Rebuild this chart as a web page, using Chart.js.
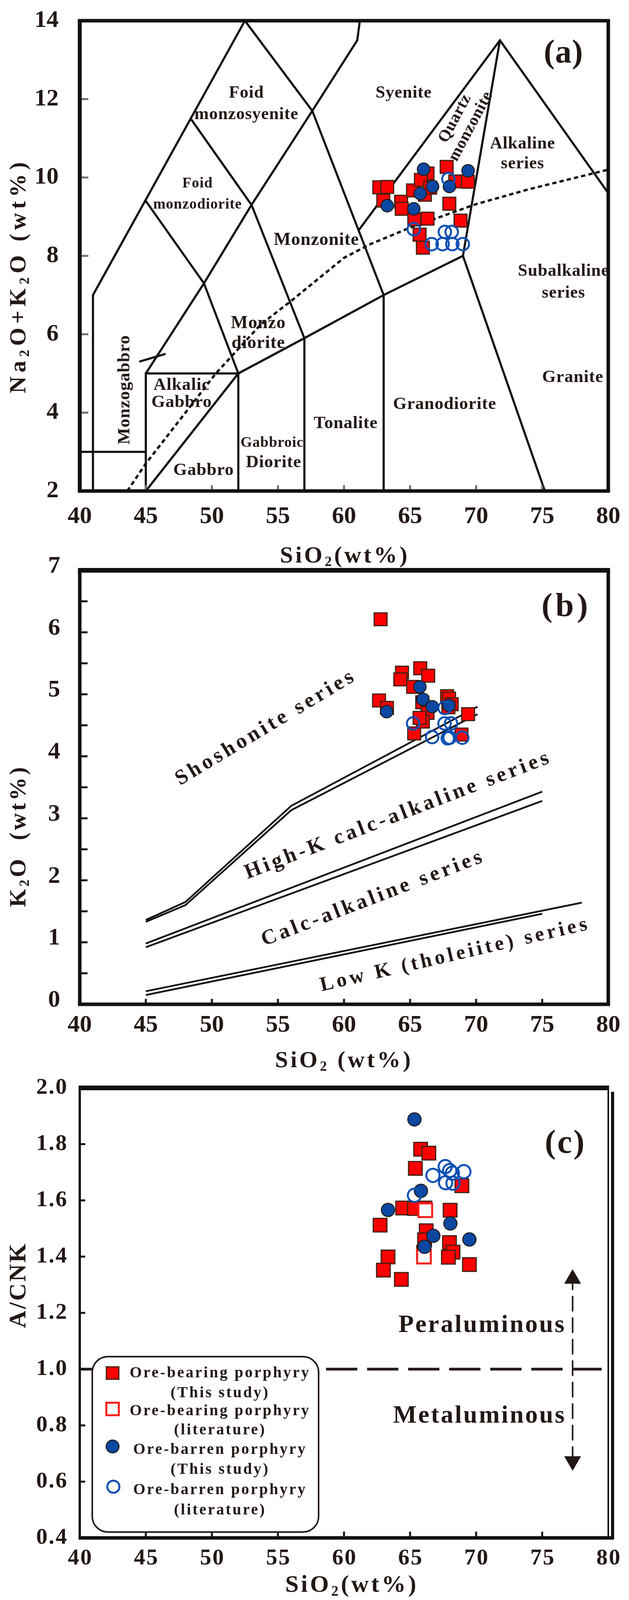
<!DOCTYPE html>
<html>
<head>
<meta charset="utf-8">
<script src="https://cdn.jsdelivr.net/npm/chart.js@4.4.0/dist/chart.umd.min.js"></script>
<style>
  body { margin: 0; background: #fff; width: 1609px; height: 4110px; position: relative; overflow: hidden; }
  canvas { position: absolute; left: 0; }
</style>
</head>
<body>
<canvas id="chartA" width="1609" height="1480" style="top:0"></canvas>
<canvas id="chartB" width="1609" height="1370" style="top:1380px"></canvas>
<canvas id="chartC" width="1609" height="1370" style="top:2740px"></canvas>
<script>
// ---------- (a) TAS diagram data ----------
const tasOreBearing = [[62.67,9.75],[63.27,9.76],[62.97,9.41],[64.32,9.38],[64.37,9.20],[65.22,9.67],[65.32,8.93],
  [66.32,8.95],[65.72,8.54],[65.97,8.21],[68.82,8.90],[67.97,9.33],[67.77,10.27],[68.42,9.90],[69.37,9.89],
  [66.32,10.10],[65.82,9.94],[66.12,9.56],[66.52,9.74]];
const tasBarren = [[66.02,10.21],[66.70,9.77],[65.77,9.59],[67.98,9.77],[69.39,10.17],[63.27,9.28],[65.28,9.20]];
const tasBarrenLit = [[65.28,8.68],[67.90,9.96],[67.63,8.61],[68.15,8.61],[66.64,8.30],[67.46,8.30],[68.20,8.30],[68.99,8.30]];

// field boundaries (SiO2, Na2O+K2O)
const tasBoundaries = [
  [[41,2],[41,7],[52.5,14]],
  [[40,3],[45,3]],
  [[45,2],[45,5],[52,5],[52,2]],
  [[45,2],[52,5],[57,5.9],[63,7],[69,8]],
  [[57,2],[57,5.9]],
  [[63,2],[63,7]],
  [[45,5],[49.4,7.3],[53,9.3],[57.6,11.7],[61,13.5],[61.2,14]],
  [[45,9.4],[49.4,7.3],[52,5]],
  [[48.4,11.5],[53,9.3],[57,5.9]],
  [[52.5,14],[57.6,11.7],[63,7]],
  [[61.1,8.65],[71.8,13.5],[80,9.6]],
  [[75.2,2],[69,8],[71.8,13.5]],
  [[44.5,5.3],[46.5,5.5]]
];
// alkaline / subalkaline divide
const alkalineDivide = [[43.6,2],[45,2.7],[48,4.0],[50.3,5.0],[53.7,6.25],[56,6.85],[60,7.95],[62,8.3],
  [65,8.72],[70,9.32],[74,9.7],[80,10.2]];

const tasTicksX = [45,50,55,60,65,70,75];
const tasTicksY = [4,6,8,10,12,14];
const tasLabelsX = [40,45,50,55,60,65,70,75,80];
const tasLabelsY = [2,4,6,8,10,12,14];

// ---------- (b) K2O vs SiO2 ----------
const kOreBearing = [[65.77,5.42],[64.39,5.35],[64.26,5.24],[66.37,5.30],[65.23,5.12],[62.65,4.90],[63.25,4.78],
  [67.80,4.97],[67.95,4.93],[68.15,4.84],[67.90,4.79],[69.39,4.68],[65.31,4.37],[68.89,4.35],[65.92,4.87],
  [66.32,4.70],[65.97,4.56],[65.72,4.62],[62.77,6.21]];
const kBarren = [[65.74,5.12],[65.97,4.92],[66.67,4.80],[67.95,4.82],[63.23,4.72]];
const kBarrenLit = [[65.23,4.53],[67.61,4.78],[67.61,4.53],[68.10,4.53],[66.67,4.31],[67.85,4.29],[68.00,4.30],[68.95,4.30]];

const shoshoniteUpper = [[45,1.36],[48,1.65],[56,3.2],[70.1,4.8]];
const shoshoniteLower = [[45,1.33],[48,1.6],[56,3.13],[70.1,4.68]];
const highKUpper = [[45,0.98],[75,3.43]];
const highKLower = [[45,0.92],[75,3.28]];
const lowKUpper = [[45,0.21],[78,1.64]];
const lowKLower = [[45,0.15],[75,1.46]];

const kTicksX = [45,50,55,60,65,70,75];
const kTicksY = [0.5,1,1.5,2,2.5,3,3.5,4,4.5,5,5.5,6,6.5];
const kLabelsX = [40,45,50,55,60,65,70,75,80];
const kLabelsY = [0,1,2,3,4,5,6,7];

// ---------- (c) A/CNK vs SiO2 ----------
const acnkOreBearing = [[65.80,1.782],[66.42,1.768],[65.40,1.714],[68.92,1.652],[64.44,1.573],[65.33,1.571],
  [66.12,1.573],[68.03,1.565],[62.73,1.512],[66.22,1.492],[66.10,1.46],[66.02,1.416],[67.98,1.450],[68.25,1.416],
  [67.90,1.398],[69.49,1.372],[63.33,1.399],[62.98,1.352],[64.34,1.319]];
const acnkOreBearingLit = [[66.15,1.565],[66.05,1.40]];
const acnkBarren = [[65.82,1.634],[63.33,1.566],[68.05,1.518],[66.76,1.474],[66.09,1.435],[69.49,1.461],[65.33,1.888]];
const acnkBarrenLit = [[65.33,1.618],[66.73,1.689],[67.66,1.720],[68.00,1.706],[68.20,1.697],[69.07,1.702],
  [67.69,1.663],[68.25,1.661]];

const aluminaDivide = [[40,1.0],[79.5,1.0]];
const arrowShaft = [[77.3,0.67],[77.3,1.32]];
const arrowHeads = [[77.3,1.321],[77.3,0.673]];

const acnkTicksX = [45,50,55,60,65,70,75];
const acnkTicksY = [0.6,0.8,1.0,1.2,1.4,1.6,1.8];
const acnkLabelsX = [40,45,50,55,60,65,70,75,80];
const acnkLabelsY = [0.4,0.6,0.8,1.0,1.2,1.4,1.6,1.8,2.0];

// ---------- drawing helpers ----------
const SERIF = '"Liberation Serif", "Times New Roman", serif';
const INK = '#231815';
const RED = '#ff0000';
const BLUE = '#0a47a1';
const RING = '#0a50b4';

const pts = arr => arr.map(([x, y]) => ({ x, y }));
const font = size => 'bold ' + size + 'px ' + SERIF;

function drawText(ctx, text, x, y, size, opts = {}) {
  const sp = opts.spacing || 0;
  ctx.save();
  ctx.translate(x, y);
  if (opts.rotate) ctx.rotate(opts.rotate * Math.PI / 180);
  ctx.font = font(size);
  ctx.letterSpacing = sp + 'px';
  ctx.fillStyle = INK;
  ctx.textAlign = opts.align || 'center';
  ctx.textBaseline = 'middle';
  ctx.fillText(text, ctx.textAlign === 'center' ? sp / 2 : 0, 0);
  ctx.restore();
}

// text with subscripts: parts = [[text, isSub], ...]
function drawRich(ctx, parts, x, y, size, opts = {}) {
  ctx.save();
  ctx.translate(x, y);
  if (opts.rotate) ctx.rotate(opts.rotate * Math.PI / 180);
  ctx.fillStyle = INK;
  ctx.textAlign = 'left';
  ctx.textBaseline = 'alphabetic';
  ctx.letterSpacing = (opts.spacing || 0) + 'px';
  const widths = parts.map(p => { ctx.font = font(p[1] ? size * 0.6 : size); return ctx.measureText(p[0]).width; });
  let cx = -widths.reduce((a, b) => a + b, 0) / 2;
  parts.forEach((p, i) => {
    ctx.font = font(p[1] ? size * 0.6 : size);
    ctx.fillText(p[0], cx, size * 0.33 + (p[1] ? size * 0.16 : 0));
    cx += widths[i];
  });
  ctx.restore();
}

function seg(ctx, x1, y1, x2, y2) {
  ctx.beginPath();
  ctx.moveTo(x1, y1);
  ctx.lineTo(x2, y2);
  ctx.stroke();
}

// frame, inward ticks, tick labels, titles and field names
const decor = {
  id: 'decor',
  afterDatasetsDraw(chart, args, o) {
    const { ctx, chartArea: a, scales: { x, y } } = chart;
    ctx.save();
    ctx.lineCap = 'butt';
    ctx.strokeStyle = o.tickColor;
    ctx.lineWidth = 5;
    o.ticksX.forEach(v => { const px = x.getPixelForValue(v); seg(ctx, px, a.bottom, px, a.bottom - o.tickLenX); });
    o.ticksY.forEach(v => { const py = y.getPixelForValue(v); seg(ctx, a.left, py, a.left + o.tickLenY, py); });

    ctx.strokeStyle = '#111';
    const f = o.frame;
    ctx.lineWidth = f.top; seg(ctx, a.left - f.left / 2, a.top, a.right + f.right / 2, a.top);
    ctx.lineWidth = f.bottom; seg(ctx, a.left - f.left / 2, a.bottom, a.right + f.right / 2 + (f.outer || 0), a.bottom);
    ctx.lineWidth = f.left; seg(ctx, a.left, a.top, a.left, a.bottom);
    ctx.lineWidth = f.right; seg(ctx, a.right, a.top, a.right, a.bottom);
    if (f.outer) { ctx.lineWidth = 8; seg(ctx, a.right + f.outer, a.top + 10, a.right + f.outer, a.bottom + 4); }

    o.labelsX.forEach(v => drawText(ctx, o.fmtX(v), x.getPixelForValue(v), a.bottom + o.labelOffX, o.tickFont, { spacing: o.tickSpacing }));
    o.labelsY.forEach(v => drawText(ctx, o.fmtY(v), a.left - o.labelOffY, y.getPixelForValue(v) + (o.labelShiftY || 0), o.tickFont, { align: 'right', spacing: o.tickSpacing }));

    drawRich(ctx, o.titleX, o.titleXPos[0], o.titleXPos[1], o.titleSize, { spacing: o.titleSpacing });
    drawRich(ctx, o.titleY, o.titleYPos[0], o.titleYPos[1], o.titleSize, { rotate: -90, spacing: o.titleYSpacing });

    o.notes.forEach(n => drawText(ctx, n[0], x.getPixelForValue(n[1]), y.getPixelForValue(n[2]), n[3],
      { rotate: n[4] || 0, spacing: o.noteSpacing }));
    if (o.extra) o.extra(ctx, chart);
    ctx.restore();
  }
};

const lineSet = (arr, extra = {}) => Object.assign({
  data: pts(arr), showLine: true, borderColor: '#111', borderWidth: 5.5, pointRadius: 0, tension: 0, fill: false
}, extra);
const squares = (arr, r) => ({ data: pts(arr), pointStyle: 'rect', pointRadius: r,
  pointBackgroundColor: RED, pointBorderColor: '#3b2314', pointBorderWidth: 3 });
const openSquares = (arr, r) => ({ data: pts(arr), pointStyle: 'rect', pointRadius: r,
  pointBackgroundColor: '#fff', pointBorderColor: '#ff1a1a', pointBorderWidth: 5 });
const dots = (arr, r) => ({ data: pts(arr), pointStyle: 'circle', pointRadius: r,
  pointBackgroundColor: BLUE, pointBorderColor: INK, pointBorderWidth: 2.5 });
const rings = (arr, r) => ({ data: pts(arr), pointStyle: 'circle', pointRadius: r,
  pointBackgroundColor: 'rgba(0,0,0,0)', pointBorderColor: RING, pointBorderWidth: 5 });

function makeChart(id, cfg) {
  return new Chart(document.getElementById(id), {
    type: 'scatter',
    data: { datasets: cfg.datasets },
    options: {
      responsive: false, animation: false, devicePixelRatio: 1, events: [],
      layout: { autoPadding: false, padding: cfg.padding },
      scales: {
        x: { type: 'linear', min: 40, max: 80, display: false },
        y: { type: 'linear', min: cfg.yMin, max: cfg.yMax, display: false }
      },
      plugins: { legend: { display: false }, tooltip: { enabled: false }, decor: cfg.decor }
    },
    plugins: [decor]
  });
}

const intLabel = v => String(v);

// ---------- (a) ----------
makeChart('chartA', {
  yMin: 2, yMax: 14,
  padding: { left: 204, right: 53, top: 53, bottom: 223 },
  datasets: [
    rings(tasBarrenLit, 16),
    dots(tasBarren, 16),
    squares(tasOreBearing, 23.3),
    lineSet(alkalineDivide, { borderWidth: 6, borderDash: [11, 8] }),
    ...tasBoundaries.map(b => lineSet(b))
  ],
  decor: {
    tickColor: '#707070', tickLenX: 15, tickLenY: 22,
    ticksX: tasTicksX, ticksY: tasTicksY,
    frame: { top: 9, bottom: 9, left: 10, right: 9 },
    labelsX: tasLabelsX, labelsY: tasLabelsY, fmtX: intLabel, fmtY: intLabel,
    tickFont: 62, tickSpacing: 0, labelOffX: 66, labelOffY: 54,
    titleX: [['SiO'], ['2', 1], ['(wt%)']], titleXPos: [882, 1420],
    titleY: [['Na'], ['2', 1], ['O+K'], ['2', 1], ['O (wt%)']], titleYPos: [45, 706],
    titleSize: 60, titleSpacing: 6, titleYSpacing: 10,
    noteSpacing: 1,
    notes: [
      ['Foid', 52.6, 12.15, 44], ['monzosyenite', 52.6, 11.6, 44],
      ['Foid', 48.9, 9.84, 38], ['monzodiorite', 48.9, 9.3, 38],
      ['Syenite', 64.5, 12.15, 44],
      ['Quartz', 68.4, 11.5, 42, -62], ['monzonite', 69.6, 11.3, 42, -62],
      ['Alkaline', 73.5, 10.85, 44], ['series', 73.5, 10.35, 44],
      ['Monzonite', 57.9, 8.4, 46],
      ['Monzo', 53.5, 6.27, 46], ['diorite', 53.5, 5.77, 46],
      ['Subalkaline', 76.6, 7.6, 44], ['series', 76.6, 7.05, 44],
      ['Alkalic', 47.7, 4.70, 45], ['Gabbro', 47.7, 4.26, 45],
      ['Monzogabbro', 43.42, 4.58, 45, -90],
      ['Gabbro', 49.36, 2.52, 45],
      ['Gabbroic', 54.54, 3.22, 38], ['Diorite', 54.66, 2.72, 45],
      ['Tonalite', 60.12, 3.72, 45],
      ['Granodiorite', 67.6, 4.21, 45],
      ['Granite', 77.3, 4.9, 45],
      ['(a)', 76.6, 13.15, 84]
    ]
  }
});

// ---------- (b) ----------
makeChart('chartB', {
  yMin: 0, yMax: 7,
  padding: { left: 204, right: 53, top: 80, bottom: 179 },
  datasets: [
    rings(kBarrenLit, 16),
    dots(kBarren, 16),
    squares(kOreBearing, 23.3),
    lineSet(shoshoniteUpper, { borderWidth: 4.5 }), lineSet(shoshoniteLower, { borderWidth: 4.5 }),
    lineSet(highKUpper, { borderWidth: 4.5 }), lineSet(highKLower, { borderWidth: 4.5 }),
    lineSet(lowKUpper, { borderWidth: 4.5 }), lineSet(lowKLower, { borderWidth: 4.5 })
  ],
  decor: {
    tickColor: '#111', tickLenX: 14, tickLenY: 20,
    ticksX: kTicksX, ticksY: kTicksY,
    frame: { top: 12, bottom: 9, left: 9, right: 9 },
    labelsX: kLabelsX, labelsY: kLabelsY, fmtX: intLabel, fmtY: intLabel,
    tickFont: 62, tickSpacing: 0, labelOffX: 54, labelOffY: 50, labelShiftY: -10,
    titleX: [['SiO'], ['2', 1], [' (wt%)']], titleXPos: [880, 1332],
    titleY: [['K'], ['2', 1], ['O  (wt%)']], titleYPos: [45, 760],
    titleSize: 60, titleSpacing: 6, titleYSpacing: 6,
    noteSpacing: 8,
    notes: [
      ['Shoshonite series', 54.0, 4.45, 54, -31],
      ['High-K calc-alkaline series', 64.0, 3.04, 54, -21],
      ['Calc-alkaline series', 62.1, 1.70, 54, -21],
      ['Low K (tholeiite) series', 68.3, 0.79, 52, -13],
      ['(b)', 76.7, 6.4, 84]
    ]
  }
});

// ---------- (c) ----------
function drawLegendC(ctx) {
  ctx.save();
  ctx.fillStyle = '#fff';
  ctx.strokeStyle = INK;
  ctx.lineWidth = 4;
  ctx.beginPath();
  ctx.roundRect(236, 733, 579, 449, 40);
  ctx.fill();
  ctx.stroke();

  // markers
  ctx.fillStyle = RED; ctx.strokeStyle = '#3b2314'; ctx.lineWidth = 3;
  ctx.fillRect(272, 759, 32, 32); ctx.strokeRect(272, 759, 32, 32);
  ctx.fillStyle = '#fff'; ctx.strokeStyle = '#ff1a1a'; ctx.lineWidth = 5;
  ctx.fillRect(272, 851, 32, 32); ctx.strokeRect(272, 851, 32, 32);
  ctx.fillStyle = BLUE; ctx.strokeStyle = INK; ctx.lineWidth = 2.5;
  ctx.beginPath(); ctx.arc(288, 963, 16.5, 0, Math.PI * 2); ctx.fill(); ctx.stroke();
  ctx.strokeStyle = RING; ctx.lineWidth = 5;
  ctx.beginPath(); ctx.arc(290, 1066, 15.5, 0, Math.PI * 2); ctx.stroke();
  ctx.restore();

  const rows = [
    ['Ore-bearing porphyry', 776], ['(This study)', 827],
    ['Ore-bearing porphyry', 873], ['(literature)', 922],
    ['Ore-barren porphyry', 972], ['(This study)', 1023],
    ['Ore-barren porphyry', 1075], ['(literature)', 1127]
  ];
  rows.forEach(r => drawText(ctx, r[0], 561, r[1], 40, { spacing: 4 }));
}

makeChart('chartC', {
  yMin: 0.4, yMax: 2.0,
  padding: { left: 204, right: 53, top: 45, bottom: 173 },
  datasets: [
    { data: pts(arrowHeads), pointStyle: 'triangle', pointRadius: 24, pointRotation: [0, 180],
      pointBackgroundColor: INK, pointBorderColor: INK, pointBorderWidth: 1 },
    rings(acnkBarrenLit, 17),
    dots(acnkBarren, 17),
    openSquares(acnkOreBearingLit, 24.7),
    squares(acnkOreBearing, 24.7),
    lineSet(aluminaDivide, { borderColor: INK, borderWidth: 7, borderDash: [80, 25] }),
    lineSet(arrowShaft, { borderColor: INK, borderWidth: 4, borderDash: [40, 15] })
  ],
  decor: {
    tickColor: '#111', tickLenX: 16, tickLenY: 14,
    ticksX: acnkTicksX, ticksY: acnkTicksY,
    frame: { top: 12, bottom: 9, left: 6, right: 4, outer: 11 },
    labelsX: acnkLabelsX, labelsY: acnkLabelsY, fmtX: intLabel, fmtY: v => v.toFixed(1),
    tickFont: 58, tickSpacing: 3, labelOffX: 53, labelOffY: 30,
    titleX: [['SiO'], ['2', 1], ['(wt%)']], titleXPos: [900, 1315],
    titleY: [['A/CNK']], titleYPos: [45, 550],
    titleSize: 62, titleSpacing: 6, titleYSpacing: 4,
    noteSpacing: 4,
    notes: [
      ['Peraluminous', 70.4, 1.155, 64],
      ['Metaluminous', 70.2, 0.832, 64],
      ['(c)', 76.7, 1.80, 84]
    ],
    extra: drawLegendC
  }
});
</script>
</body>
</html>
